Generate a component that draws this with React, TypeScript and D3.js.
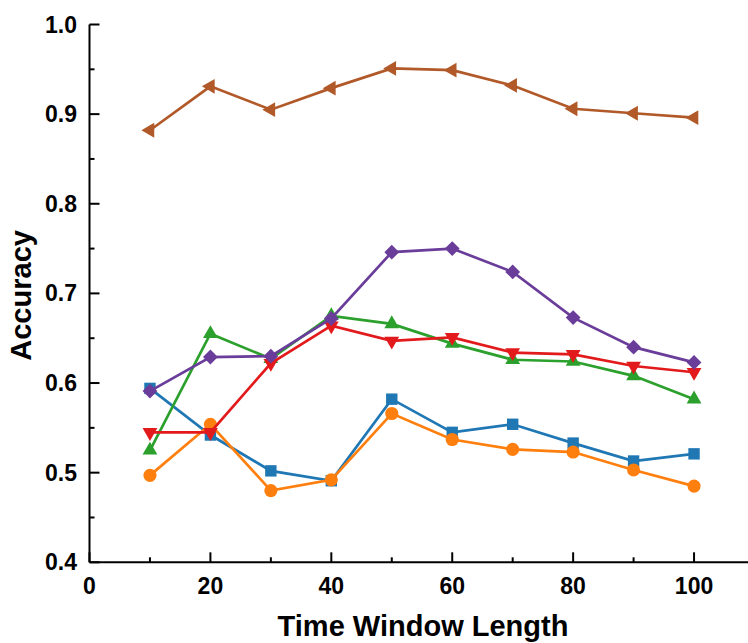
import React from "react";
import * as d3 from "d3";

const windows = [10, 20, 30, 40, 50, 60, 70, 80, 90, 100];
const blueSquare = [0.594, 0.542, 0.502, 0.491, 0.582, 0.545, 0.554, 0.533, 0.513, 0.521];
const orangeCircle = [0.497, 0.554, 0.480, 0.492, 0.566, 0.537, 0.526, 0.523, 0.503, 0.485];
const greenUp = [0.525, 0.655, 0.627, 0.675, 0.666, 0.644, 0.626, 0.624, 0.608, 0.582];
const redDown = [0.545, 0.545, 0.622, 0.664, 0.647, 0.651, 0.634, 0.632, 0.619, 0.612];
const purpleDiamond = [0.591, 0.629, 0.630, 0.672, 0.746, 0.750, 0.724, 0.673, 0.640, 0.623];
const brownLeft = [0.882, 0.931, 0.905, 0.929, 0.951, 0.949, 0.932, 0.906, 0.901, 0.896];

const xTicks = [0, 20, 40, 60, 80, 100];
const yTicks = [0.4, 0.5, 0.6, 0.7, 0.8, 0.9, 1.0];

const series = [
  { values: blueSquare, color: "#1f77b4", shape: d3.symbolSquare, size: 130, rot: 0 },
  { values: orangeCircle, color: "#ff7f0e", shape: d3.symbolCircle, size: 135, rot: 0 },
  { values: greenUp, color: "#2ca02c", shape: d3.symbolTriangle, size: 95, rot: 0 },
  { values: redDown, color: "#e31a1c", shape: d3.symbolTriangle, size: 95, rot: 180 },
  { values: purpleDiamond, color: "#6a3d9a", shape: d3.symbolSquare, size: 110, rot: 45 },
  { values: brownLeft, color: "#b15928", shape: d3.symbolTriangle, size: 95, rot: -90 },
];

const App = () => {
  const width = 748;
  const height = 643;
  const x = d3.scaleLinear().domain([0, 110]).range([89.5, 754.5]);
  const y = d3.scaleLinear().domain([0.4, 1.0]).range([562.3, 24.5]);
  const line = d3
    .line<number>()
    .x((_, i) => x(windows[i]))
    .y((d) => y(d));
  const minorX = d3.range(10, 111, 20);
  const minorY = d3.range(0.45, 1.0, 0.1);
  const font = "'Liberation Sans', Arial, sans-serif";

  return (
    <svg
      width={width}
      height={height}
      style={{ position: "absolute", left: 0, top: 0, background: "#fff" }}
      fontFamily={font}
      fontWeight="bold"
    >
      {/* axes */}
      <line x1={x(0)} x2={width} y1={y(0.4)} y2={y(0.4)} stroke="#000" strokeWidth={2} />
      <line x1={x(0)} x2={x(0)} y1={y(0.4)} y2={y(1.0)} stroke="#000" strokeWidth={2} />
      {xTicks.map((t) => (
        <g key={"xt" + t}>
          <line x1={x(t)} x2={x(t)} y1={y(0.4)} y2={y(0.4) - 10} stroke="#000" strokeWidth={2} />
          <text x={x(t)} y={594} textAnchor="middle" fontSize={23}>
            {t}
          </text>
        </g>
      ))}
      {minorX.map((t) => (
        <line key={"xm" + t} x1={x(t)} x2={x(t)} y1={y(0.4)} y2={y(0.4) - 5} stroke="#000" strokeWidth={2} />
      ))}
      {yTicks.map((t) => (
        <g key={"yt" + t}>
          <line x1={x(0)} x2={x(0) + 10} y1={y(t)} y2={y(t)} stroke="#000" strokeWidth={2} />
          <text x={77} y={y(t) + 8} textAnchor="end" fontSize={23}>
            {t.toFixed(1)}
          </text>
        </g>
      ))}
      {minorY.map((t) => (
        <line key={"ym" + t} x1={x(0)} x2={x(0) + 5} y1={y(t)} y2={y(t)} stroke="#000" strokeWidth={2} />
      ))}
      <text x={423} y={636} textAnchor="middle" fontSize={29}>
        Time Window Length
      </text>
      <text
        transform={`translate(31,${(y(0.4) + y(1.0)) / 2 + 2}) rotate(-90)`}
        textAnchor="middle"
        fontSize={29}
      >
        Accuracy
      </text>

      {/* series */}
      {series.map((s, si) => (
        <g key={si}>
          <path d={line(s.values) || ""} fill="none" stroke={s.color} strokeWidth={2.7} />
          {s.values.map((v, i) => (
            <path
              key={i}
              d={d3.symbol().type(s.shape).size(s.size)() || ""}
              transform={`translate(${x(windows[i])},${y(v)}) rotate(${s.rot})`}
              fill={s.color}
            />
          ))}
        </g>
      ))}
    </svg>
  );
};

export default App;
